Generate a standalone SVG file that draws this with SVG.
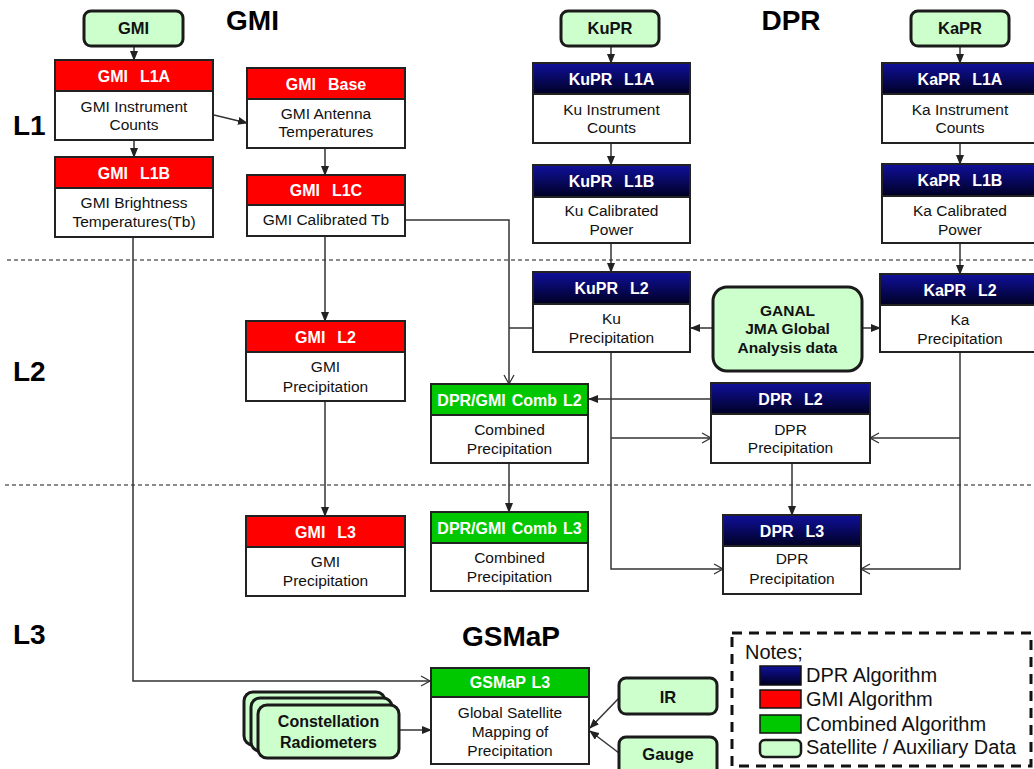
<svg xmlns="http://www.w3.org/2000/svg" width="1034" height="769" viewBox="0 0 1034 769">
<defs>
  <linearGradient id="navy" x1="0" y1="0" x2="0" y2="1">
    <stop offset="0" stop-color="#10109c"/>
    <stop offset="1" stop-color="#000024"/>
  </linearGradient>
  <marker id="af" markerUnits="userSpaceOnUse" markerWidth="10" markerHeight="8" refX="9" refY="4" orient="auto">
    <path d="M0,0 L10,4 L0,8 z" fill="#222"/>
  </marker>
  <marker id="ao" markerUnits="userSpaceOnUse" markerWidth="12" markerHeight="12" refX="10" refY="6" orient="auto">
    <path d="M1,1 L10,6 L1,11" fill="none" stroke="#333" stroke-width="1.3"/>
  </marker>
</defs>
<style>
  text{font-family:"Liberation Sans",Arial,sans-serif}
  .t{font-size:28px;font-weight:bold;fill:#000}
  .tc{text-anchor:middle}
  .h{font-size:16px;font-weight:bold;fill:#fff;text-anchor:middle;white-space:pre;word-spacing:1.5px}
  .b{font-size:15.5px;fill:#111;text-anchor:middle}
  .s{font-size:16.5px;font-weight:bold;fill:#111;text-anchor:middle}
  .g{font-size:15.5px;font-weight:bold;fill:#111;text-anchor:middle}
  .frame{fill:#fff;stroke:#222;stroke-width:2}
  .red{fill:#ff0000;stroke:#222;stroke-width:2}
  .grn{fill:#00c800;stroke:#222;stroke-width:2}
  .nav{fill:url(#navy);stroke:#222;stroke-width:2}
  .sat{fill:#ccffcc;stroke:#1a1a1a;stroke-width:3}
  .c{fill:none;stroke:#333;stroke-width:1.5}
  .dash{stroke:#666;stroke-width:1.3;stroke-dasharray:4 3}
  .leg{font-size:20px;fill:#111}
</style>
<rect width="1034" height="769" fill="#fff"/>

<!-- level separators -->
<line class="dash" x1="7" y1="260" x2="1034" y2="260"/>
<line class="dash" x1="5" y1="485" x2="1034" y2="485"/>

<!-- titles -->
<text class="t tc" x="252.5" y="30">GMI</text>
<text class="t tc" x="791" y="30">DPR</text>
<text class="t tc" x="511" y="646">GSMaP</text>
<text class="t" x="13" y="135">L1</text>
<text class="t" x="13" y="381">L2</text>
<text class="t" x="13" y="644">L3</text>

<!-- connectors -->
<g id="connectors">
  <line class="c" x1="134" y1="46" x2="134" y2="60" marker-end="url(#af)"/>
  <line class="c" x1="134" y1="140" x2="134" y2="157" marker-end="url(#af)"/>
  <line class="c" x1="214" y1="115" x2="247" y2="123" marker-end="url(#af)"/>
  <line class="c" x1="325" y1="148" x2="325" y2="175" marker-end="url(#af)"/>
  <line class="c" x1="325" y1="236" x2="325" y2="321" marker-end="url(#af)"/>
  <line class="c" x1="325" y1="401" x2="325" y2="516" marker-end="url(#af)"/>
  <polyline class="c" points="133,237 133,681 430,681" marker-end="url(#ao)"/>
  <polyline class="c" points="405,220 509,220 509,384" marker-end="url(#ao)"/>
  <line class="c" x1="533" y1="328" x2="509" y2="328"/>
  <line class="c" x1="711" y1="399" x2="589" y2="399" marker-end="url(#af)"/>
  <line class="c" x1="509" y1="463" x2="509" y2="512" marker-end="url(#af)"/>
  <line class="c" x1="713" y1="328" x2="691" y2="328" marker-end="url(#af)"/>
  <line class="c" x1="862" y1="328" x2="880" y2="328" marker-end="url(#af)"/>
  <line class="c" x1="611" y1="46" x2="611" y2="63" marker-end="url(#af)"/>
  <line class="c" x1="611" y1="143" x2="611" y2="165" marker-end="url(#af)"/>
  <line class="c" x1="611" y1="243" x2="611" y2="272" marker-end="url(#af)"/>
  <polyline class="c" points="611,352 611,569 723,569" marker-end="url(#ao)"/>
  <line class="c" x1="611" y1="438" x2="711" y2="438" marker-end="url(#ao)"/>
  <line class="c" x1="960" y1="46" x2="960" y2="63" marker-end="url(#af)"/>
  <line class="c" x1="960" y1="143" x2="960" y2="164" marker-end="url(#af)"/>
  <line class="c" x1="960" y1="243" x2="960" y2="274" marker-end="url(#af)"/>
  <polyline class="c" points="960,352 960,569 861,569" marker-end="url(#ao)"/>
  <line class="c" x1="960" y1="438" x2="870" y2="438" marker-end="url(#ao)"/>
  <line class="c" x1="792" y1="463" x2="792" y2="515" marker-end="url(#af)"/>
  <line class="c" x1="399" y1="730" x2="431" y2="730" marker-end="url(#af)"/>
  <line class="c" x1="619" y1="698" x2="590" y2="728" marker-end="url(#af)"/>
  <line class="c" x1="619" y1="753" x2="590" y2="731" marker-end="url(#af)"/>
</g>

<!-- satellite / auxiliary data -->
<g id="gmi-sat"><rect class="sat" x="84" y="11" width="99" height="35" rx="7"/><text class="s" x="133.5" y="34">GMI</text></g>
<g id="kupr-sat"><rect class="sat" x="561" y="11" width="98" height="35" rx="7"/><text class="s" x="610" y="34">KuPR</text></g>
<g id="kapr-sat"><rect class="sat" x="911" y="11" width="98" height="35" rx="7"/><text class="s" x="960" y="34">KaPR</text></g>
<g id="ganal"><rect class="sat" x="713" y="287" width="149" height="84" rx="14"/>
  <text class="g" x="787.5" y="316">GANAL</text><text class="g" x="787.5" y="334">JMA Global</text><text class="g" x="787.5" y="353">Analysis data</text></g>
<g id="ir"><rect class="sat" x="619" y="678" width="98" height="36" rx="7"/><text class="s" x="668" y="703">IR</text></g>
<g id="gauge"><rect class="sat" x="619" y="737" width="98" height="40" rx="7"/><text class="s" x="668" y="760">Gauge</text></g>
<g id="constellation">
  <rect class="sat" x="244" y="692" width="141" height="53" rx="9"/>
  <rect class="sat" x="251" y="698" width="141" height="53" rx="9"/>
  <rect class="sat" x="258" y="705" width="141" height="53" rx="9"/>
  <text class="s" x="328.5" y="727" style="font-size:16px">Constellation</text>
  <text class="s" x="328.5" y="748" style="font-size:16px">Radiometers</text>
</g>

<!-- GMI column -->
<g id="gmi-l1a"><rect class="frame" x="55" y="91" width="158" height="49"/><rect class="red" x="55" y="60" width="158" height="31"/>
  <text class="h" x="134" y="82">GMI  L1A</text><text class="b" x="134" y="112">GMI Instrument</text><text class="b" x="134" y="130">Counts</text></g>
<g id="gmi-base"><rect class="frame" x="247" y="99" width="158" height="49"/><rect class="red" x="247" y="68" width="158" height="31"/>
  <text class="h" x="326" y="90">GMI  Base</text><text class="b" x="326" y="119">GMI Antenna</text><text class="b" x="326" y="137">Temperatures</text></g>
<g id="gmi-l1b"><rect class="frame" x="55" y="188" width="158" height="49"/><rect class="red" x="55" y="157" width="158" height="31"/>
  <text class="h" x="134" y="179">GMI  L1B</text><text class="b" x="134" y="208">GMI Brightness</text><text class="b" x="134" y="227">Temperatures(Tb)</text></g>
<g id="gmi-l1c"><rect class="frame" x="247" y="205" width="158" height="31"/><rect class="red" x="247" y="175" width="158" height="30"/>
  <text class="h" x="326" y="196">GMI  L1C</text><text class="b" x="326" y="225">GMI Calibrated Tb</text></g>
<g id="gmi-l2"><rect class="frame" x="246" y="352" width="159" height="49"/><rect class="red" x="246" y="321" width="159" height="31"/>
  <text class="h" x="325.5" y="343">GMI  L2</text><text class="b" x="325.5" y="372">GMI</text><text class="b" x="325.5" y="392">Precipitation</text></g>
<g id="gmi-l3"><rect class="frame" x="246" y="547" width="159" height="49"/><rect class="red" x="246" y="516" width="159" height="31"/>
  <text class="h" x="325.5" y="538">GMI  L3</text><text class="b" x="325.5" y="567">GMI</text><text class="b" x="325.5" y="586">Precipitation</text></g>

<!-- Combined -->
<g id="comb-l2"><rect class="frame" x="431" y="415" width="157" height="48"/><rect class="grn" x="431" y="384" width="157" height="31"/>
  <text class="h" x="509.5" y="406">DPR/GMI Comb L2</text><text class="b" x="509.5" y="435">Combined</text><text class="b" x="509.5" y="454">Precipitation</text></g>
<g id="comb-l3"><rect class="frame" x="431" y="543" width="157" height="48"/><rect class="grn" x="431" y="512" width="157" height="31"/>
  <text class="h" x="509.5" y="534">DPR/GMI Comb L3</text><text class="b" x="509.5" y="563">Combined</text><text class="b" x="509.5" y="582">Precipitation</text></g>
<g id="gsmap-l3"><rect class="frame" x="431" y="697" width="158" height="67"/><rect class="grn" x="431" y="668" width="158" height="29"/>
  <text class="h" x="510" y="688">GSMaP L3</text><text class="b" x="510" y="718">Global Satellite</text><text class="b" x="510" y="737">Mapping of</text><text class="b" x="510" y="756">Precipitation</text></g>

<!-- DPR column -->
<g id="kupr-l1a"><rect class="frame" x="533" y="94" width="157" height="49"/><rect class="nav" x="533" y="63" width="157" height="31"/>
  <text class="h" x="611.5" y="85">KuPR  L1A</text><text class="b" x="611.5" y="115">Ku Instrument</text><text class="b" x="611.5" y="133">Counts</text></g>
<g id="kupr-l1b"><rect class="frame" x="533" y="197" width="157" height="46"/><rect class="nav" x="533" y="165" width="157" height="32"/>
  <text class="h" x="611.5" y="187">KuPR  L1B</text><text class="b" x="611.5" y="216">Ku Calibrated</text><text class="b" x="611.5" y="235">Power</text></g>
<g id="kapr-l1a"><rect class="frame" x="882" y="94" width="158" height="49"/><rect class="nav" x="882" y="63" width="158" height="31"/>
  <text class="h" x="960" y="85">KaPR  L1A</text><text class="b" x="960" y="115">Ka Instrument</text><text class="b" x="960" y="133">Counts</text></g>
<g id="kapr-l1b"><rect class="frame" x="882" y="196" width="158" height="47"/><rect class="nav" x="882" y="164" width="158" height="32"/>
  <text class="h" x="960" y="186">KaPR  L1B</text><text class="b" x="960" y="216">Ka Calibrated</text><text class="b" x="960" y="235">Power</text></g>
<g id="kupr-l2"><rect class="frame" x="533" y="304" width="157" height="48"/><rect class="nav" x="533" y="272" width="157" height="32"/>
  <text class="h" x="611.5" y="294">KuPR  L2</text><text class="b" x="611.5" y="324">Ku</text><text class="b" x="611.5" y="343">Precipitation</text></g>
<g id="kapr-l2"><rect class="frame" x="880" y="305" width="160" height="47"/><rect class="nav" x="880" y="274" width="160" height="31"/>
  <text class="h" x="960" y="296">KaPR  L2</text><text class="b" x="960" y="325">Ka</text><text class="b" x="960" y="344">Precipitation</text></g>
<g id="dpr-l2"><rect class="frame" x="711" y="414" width="159" height="49"/><rect class="nav" x="711" y="383" width="159" height="31"/>
  <text class="h" x="790.5" y="405">DPR  L2</text><text class="b" x="790.5" y="435">DPR</text><text class="b" x="790.5" y="453">Precipitation</text></g>
<g id="dpr-l3"><rect class="frame" x="723" y="546" width="138" height="48"/><rect class="nav" x="723" y="515" width="138" height="31"/>
  <text class="h" x="792" y="537">DPR  L3</text><text class="b" x="792" y="564">DPR</text><text class="b" x="792" y="584">Precipitation</text></g>

<!-- legend -->
<g id="legend">
  <rect x="732" y="633" width="299" height="133" fill="none" stroke="#111" stroke-width="3" stroke-dasharray="10 7"/>
  <text class="leg" x="745" y="659">Notes;</text>
  <rect x="760" y="666" width="41" height="19" fill="url(#navy)" stroke="#111" stroke-width="1.5"/>
  <rect x="760" y="690" width="41" height="18" fill="#ff0000" stroke="#111" stroke-width="1.5"/>
  <rect x="760" y="715" width="41" height="18" fill="#00c800" stroke="#111" stroke-width="1.5"/>
  <rect x="760" y="740" width="41" height="17" rx="5" fill="#ccffcc" stroke="#1a1a1a" stroke-width="2.5"/>
  <text class="leg" x="806" y="682">DPR Algorithm</text>
  <text class="leg" x="806" y="706">GMI Algorithm</text>
  <text class="leg" x="806" y="731">Combined Algorithm</text>
  <text class="leg" x="806" y="754">Satellite / Auxiliary Data</text>
</g>
</svg>
